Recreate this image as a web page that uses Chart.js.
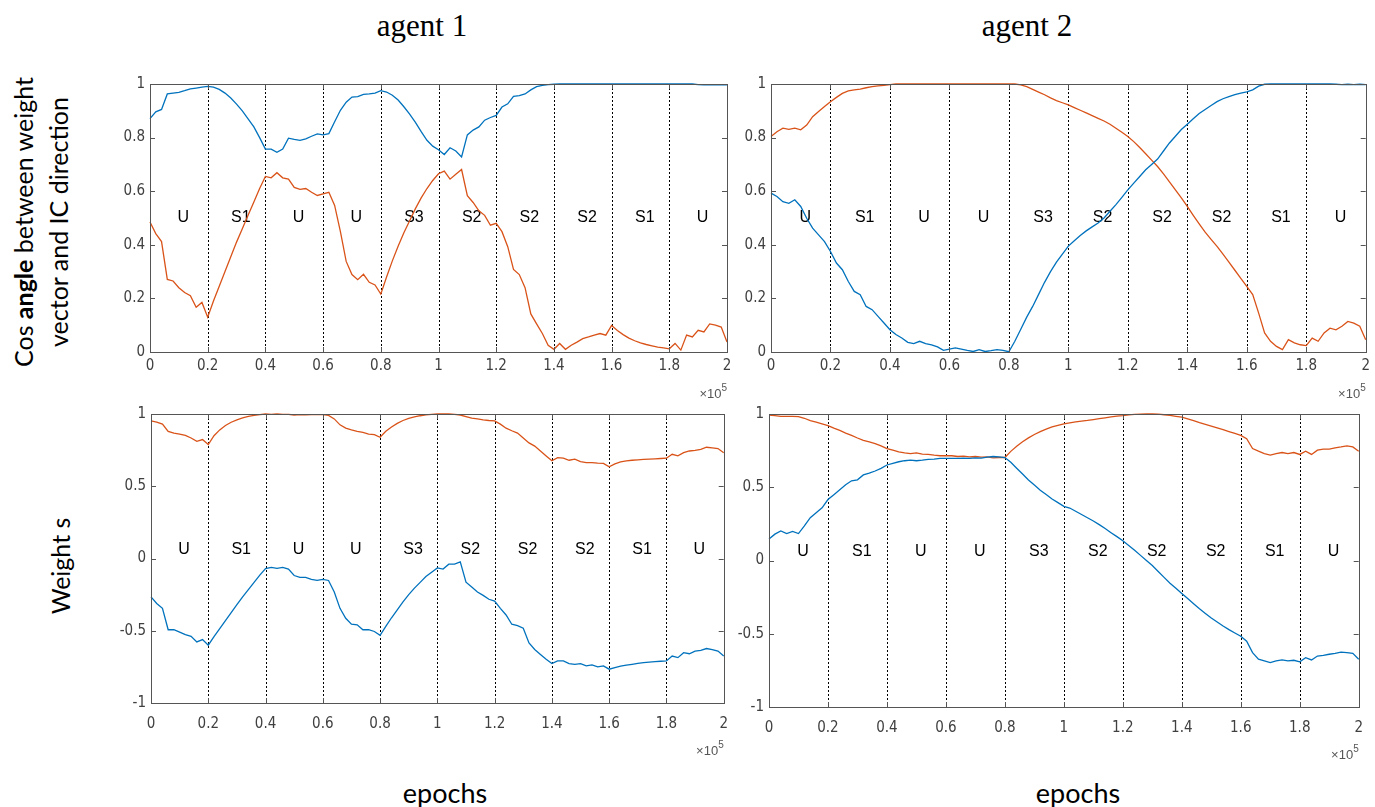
<!DOCTYPE html>
<html>
<head>
<meta charset="utf-8">
<script src="https://cdn.jsdelivr.net/npm/chart.js@4.4.1/dist/chart.umd.min.js"></script>
<style>
    body { margin: 0; background: #fff; }
    #page { position: relative; width: 1375px; height: 807px; overflow: hidden; background: #fff; }
    #page canvas { position: absolute; }
    .txt { position: absolute; white-space: nowrap; color: #000; }
    .agent { font-family: 'Liberation Serif', 'Times New Roman', serif; font-size: 31px; transform: translate(-50%, -50%); }
    .xlab { font-family: Lato, 'Open Sans', sans-serif; font-size: 27px; transform: translate(-50%, -50%); }
    .ylab { font-family: Lato, 'Open Sans', sans-serif; font-size: 25px; line-height: 35px; text-align: center;
            transform: translate(-50%, -50%) rotate(-90deg); }
</style>
</head>
<body>
<div id="page">
    <div class="txt agent" style="left:422px; top:26px;">agent 1</div>
    <div class="txt agent" style="left:1027px; top:26px;">agent 2</div>
    <div class="txt ylab" style="left:41px; top:222px;">Cos <b>angle</b> between weight<br>vector and IC direction</div>
    <div class="txt ylab" style="left:60px; top:566px;">Weight s</div>
    <div class="txt xlab" style="left:445px; top:792px;">epochs</div>
    <div class="txt xlab" style="left:1078px; top:792px;">epochs</div>

    <canvas id="cosAgent1" width="640" height="335" style="left:100px; top:70px;"></canvas>
    <canvas id="cosAgent2" width="655" height="335" style="left:720px; top:70px;"></canvas>
    <canvas id="wAgent1" width="640" height="365" style="left:100px; top:400px;"></canvas>
    <canvas id="wAgent2" width="655" height="365" style="left:720px; top:400px;"></canvas>
</div>

<script>
// epochs (x 10^5), one sample every 0.02
const epochs = [
    0, 0.02, 0.04, 0.06, 0.08, 0.1, 0.12, 0.14, 0.16, 0.18,
    0.2, 0.22, 0.24, 0.26, 0.28, 0.3, 0.32, 0.34, 0.36, 0.38,
    0.4, 0.42, 0.44, 0.46, 0.48, 0.5, 0.52, 0.54, 0.56, 0.58,
    0.6, 0.62, 0.64, 0.66, 0.68, 0.7, 0.72, 0.74, 0.76, 0.78,
    0.8, 0.82, 0.84, 0.86, 0.88, 0.9, 0.92, 0.94, 0.96, 0.98,
    1, 1.02, 1.04, 1.06, 1.08, 1.1, 1.12, 1.14, 1.16, 1.18,
    1.2, 1.22, 1.24, 1.26, 1.28, 1.3, 1.32, 1.34, 1.36, 1.38,
    1.4, 1.42, 1.44, 1.46, 1.48, 1.5, 1.52, 1.54, 1.56, 1.58,
    1.6, 1.62, 1.64, 1.66, 1.68, 1.7, 1.72, 1.74, 1.76, 1.78,
    1.8, 1.82, 1.84, 1.86, 1.88, 1.9, 1.92, 1.94, 1.96, 1.98,
    2
];

// training phases between the dotted lines
const phaseEdges = [0.2, 0.4, 0.6, 0.8, 1, 1.2, 1.4, 1.6, 1.8];
const phaseLabels = ['U', 'S1', 'U', 'U', 'S3', 'S2', 'S2', 'S2', 'S1', 'U'];

// agent 1, cos angle
const agent1CosBlue = [
    0.871, 0.896, 0.905, 0.963, 0.966, 0.969, 0.975, 0.982, 0.985, 0.988,
    0.991, 0.988, 0.980, 0.966, 0.948, 0.925, 0.900, 0.870, 0.840, 0.800,
    0.757, 0.757, 0.745, 0.757, 0.798, 0.793, 0.790, 0.795, 0.805, 0.814,
    0.810, 0.815, 0.859, 0.902, 0.932, 0.951, 0.953, 0.961, 0.963, 0.966,
    0.975, 0.970, 0.958, 0.940, 0.915, 0.888, 0.857, 0.822, 0.790, 0.768,
    0.755, 0.737, 0.762, 0.750, 0.728, 0.810, 0.828, 0.840, 0.865, 0.875,
    0.883, 0.914, 0.926, 0.954, 0.957, 0.963, 0.978, 0.990, 0.995, 0.998,
    0.999, 1, 1, 1, 1, 1, 1, 1, 1, 1,
    1, 1, 1, 1, 1, 1, 1, 1, 1, 1,
    1, 1, 1, 1, 1, 0.998, 0.997, 0.998, 0.997, 0.998,
    0.997
];
const agent1CosRed = [
    0.485, 0.442, 0.412, 0.271, 0.265, 0.240, 0.222, 0.210, 0.167, 0.185,
    0.130, 0.190, 0.245, 0.300, 0.355, 0.410, 0.460, 0.510, 0.560, 0.610,
    0.655, 0.650, 0.669, 0.650, 0.645, 0.614, 0.607, 0.610, 0.596, 0.584,
    0.590, 0.596, 0.547, 0.449, 0.338, 0.289, 0.270, 0.290, 0.260, 0.250,
    0.216, 0.280, 0.340, 0.395, 0.445, 0.490, 0.535, 0.575, 0.610, 0.640,
    0.665, 0.675, 0.645, 0.663, 0.681, 0.583, 0.558, 0.527, 0.510, 0.473,
    0.480, 0.449, 0.393, 0.308, 0.289, 0.240, 0.142, 0.105, 0.069, 0.025,
    0.010, 0.032, 0.010, 0.025, 0.037, 0.050, 0.056, 0.063, 0.069, 0.063,
    0.099, 0.080, 0.065, 0.052, 0.042, 0.034, 0.028, 0.023, 0.018, 0.015,
    0.012, 0.032, 0.007, 0.063, 0.056, 0.081, 0.075, 0.105, 0.100, 0.093,
    0.037
];

// agent 2, cos angle
const agent2CosBlue = [
    0.593, 0.580, 0.561, 0.555, 0.568, 0.543, 0.499, 0.462, 0.437, 0.412,
    0.375, 0.332, 0.307, 0.263, 0.226, 0.214, 0.170, 0.158, 0.133, 0.108,
    0.083, 0.065, 0.052, 0.036, 0.031, 0.040, 0.031, 0.027, 0.019, 0.006,
    0.011, 0.015, 0.011, 0.006, 0.002, 0.009, 0.002, 0.005, 0.009, 0.006,
    0.001, 0.040, 0.085, 0.130, 0.170, 0.215, 0.260, 0.300, 0.335, 0.365,
    0.395, 0.415, 0.435, 0.452, 0.467, 0.481, 0.500, 0.525, 0.550, 0.577,
    0.605, 0.630, 0.655, 0.680, 0.700, 0.720, 0.750, 0.780, 0.805, 0.830,
    0.850, 0.870, 0.890, 0.905, 0.920, 0.934, 0.945, 0.953, 0.960, 0.966,
    0.971, 0.978, 0.992, 0.999, 1, 1, 1, 1, 1, 1,
    1, 1, 1, 1, 1, 0.999, 0.998, 0.999, 0.998, 0.999,
    0.998
];
const agent2CosRed = [
    0.804, 0.822, 0.835, 0.831, 0.835, 0.829, 0.847, 0.878, 0.897, 0.916,
    0.934, 0.950, 0.965, 0.974, 0.978, 0.981, 0.986, 0.990, 0.993, 0.995,
    0.998, 1, 1, 1, 1, 1, 1, 1, 1, 1,
    1, 1, 1, 1, 1, 1, 1, 1, 1, 1,
    1, 1, 0.997, 0.990, 0.980, 0.970, 0.960, 0.948, 0.938, 0.930,
    0.922, 0.912, 0.902, 0.892, 0.882, 0.872, 0.862, 0.850, 0.835, 0.820,
    0.804, 0.785, 0.763, 0.740, 0.716, 0.692, 0.665, 0.635, 0.605, 0.575,
    0.543, 0.510, 0.478, 0.447, 0.420, 0.394, 0.365, 0.335, 0.305, 0.275,
    0.245, 0.214, 0.145, 0.071, 0.040, 0.021, 0.009, 0.046, 0.034, 0.027,
    0.024, 0.052, 0.040, 0.071, 0.089, 0.083, 0.096, 0.114, 0.108, 0.096,
    0.046
];

// agent 1, weights
const agent1WeightBlue = [
    -0.266, -0.311, -0.345, -0.493, -0.493, -0.509, -0.527, -0.539, -0.577, -0.561,
    -0.600, -0.540, -0.485, -0.430, -0.375, -0.320, -0.265, -0.215, -0.165, -0.115,
    -0.070, -0.061, -0.068, -0.061, -0.073, -0.118, -0.130, -0.130, -0.145, -0.152,
    -0.145, -0.152, -0.232, -0.345, -0.414, -0.455, -0.459, -0.493, -0.493, -0.505,
    -0.532, -0.470, -0.410, -0.355, -0.300, -0.250, -0.205, -0.165, -0.125, -0.095,
    -0.065, -0.073, -0.039, -0.039, -0.023, -0.164, -0.198, -0.232, -0.255, -0.282,
    -0.295, -0.345, -0.391, -0.455, -0.464, -0.482, -0.584, -0.630, -0.664, -0.698,
    -0.727, -0.709, -0.709, -0.727, -0.732, -0.727, -0.743, -0.736, -0.750, -0.743,
    -0.766, -0.755, -0.745, -0.738, -0.732, -0.726, -0.721, -0.717, -0.714, -0.711,
    -0.709, -0.675, -0.686, -0.652, -0.659, -0.641, -0.636, -0.623, -0.630, -0.641,
    -0.675
];
const agent1WeightRed = [
    0.952, 0.943, 0.930, 0.880, 0.868, 0.861, 0.852, 0.834, 0.811, 0.823,
    0.789, 0.850, 0.890, 0.920, 0.943, 0.960, 0.973, 0.983, 0.990, 0.996,
    1.000, 0.998, 1.000, 0.997, 0.998, 0.993, 0.995, 0.994, 0.996, 0.995,
    0.995, 0.990, 0.966, 0.925, 0.902, 0.890, 0.880, 0.873, 0.861, 0.857,
    0.839, 0.880, 0.910, 0.935, 0.955, 0.970, 0.980, 0.988, 0.994, 0.998,
    1.000, 1.000, 1.000, 0.998, 0.993, 0.982, 0.971, 0.966, 0.959, 0.955,
    0.952, 0.930, 0.902, 0.884, 0.868, 0.834, 0.800, 0.778, 0.744, 0.710,
    0.676, 0.698, 0.694, 0.680, 0.687, 0.671, 0.664, 0.664, 0.660, 0.658,
    0.635, 0.655, 0.668, 0.675, 0.680, 0.683, 0.686, 0.688, 0.690, 0.692,
    0.694, 0.721, 0.710, 0.732, 0.744, 0.748, 0.755, 0.770, 0.766, 0.761,
    0.732
];

// agent 2, weights
const agent2WeightBlue = [
    0.146, 0.180, 0.202, 0.184, 0.198, 0.184, 0.236, 0.292, 0.326, 0.360,
    0.416, 0.449, 0.483, 0.517, 0.544, 0.551, 0.584, 0.596, 0.611, 0.629,
    0.652, 0.663, 0.674, 0.681, 0.685, 0.681, 0.685, 0.690, 0.692, 0.697,
    0.697, 0.697, 0.697, 0.699, 0.697, 0.701, 0.699, 0.706, 0.710, 0.708,
    0.703, 0.670, 0.630, 0.590, 0.550, 0.515, 0.480, 0.450, 0.420, 0.395,
    0.370, 0.358, 0.336, 0.314, 0.292, 0.270, 0.245, 0.218, 0.190, 0.163,
    0.135, 0.103, 0.070, 0.035, 0.000, -0.034, -0.075, -0.115, -0.155, -0.190,
    -0.225, -0.260, -0.295, -0.330, -0.362, -0.393, -0.420, -0.447, -0.472, -0.495,
    -0.517, -0.551, -0.629, -0.674, -0.685, -0.697, -0.685, -0.679, -0.685, -0.681,
    -0.692, -0.663, -0.679, -0.652, -0.647, -0.640, -0.634, -0.625, -0.629, -0.634,
    -0.674
];
const agent2WeightRed = [
    0.993, 0.989, 0.984, 0.984, 0.984, 0.982, 0.971, 0.955, 0.944, 0.933,
    0.921, 0.903, 0.888, 0.870, 0.854, 0.836, 0.820, 0.809, 0.798, 0.782,
    0.764, 0.753, 0.742, 0.735, 0.730, 0.735, 0.726, 0.724, 0.719, 0.715,
    0.715, 0.715, 0.710, 0.712, 0.708, 0.710, 0.706, 0.708, 0.701, 0.703,
    0.703, 0.745, 0.780, 0.810, 0.837, 0.860, 0.880, 0.897, 0.912, 0.923,
    0.933, 0.940, 0.946, 0.951, 0.956, 0.962, 0.968, 0.974, 0.980, 0.985,
    0.989, 0.994, 0.997, 0.999, 1.000, 1.000, 0.999, 0.995, 0.990, 0.984,
    0.978, 0.966, 0.954, 0.941, 0.929, 0.917, 0.905, 0.893, 0.880, 0.867,
    0.854, 0.831, 0.764, 0.746, 0.730, 0.719, 0.730, 0.737, 0.730, 0.737,
    0.724, 0.746, 0.724, 0.753, 0.760, 0.760, 0.769, 0.775, 0.782, 0.775,
    0.746
];

// MATLAB default line colours
const blue = '#0072BD';
const red = '#D95319';
const tickFont = { family: "'Liberation Sans Narrow', 'Arial Narrow', 'DejaVu Sans Condensed', sans-serif", size: 15 };
const tickColor = '#404040';

// Draws the dotted phase lines, phase names, MATLAB-style box with inward ticks and the x10^5 note
const matlabAxes = {
    id: 'matlabAxes',
    beforeDatasetsDraw(chart, args, opts) {
        const { ctx, chartArea: a, scales: { x, y } } = chart;
        ctx.save();
        ctx.strokeStyle = '#000';
        ctx.lineWidth = 1;
        ctx.setLineDash([2, 2]);
        phaseEdges.forEach(e => {
            const px = Math.round(x.getPixelForValue(e)) + 0.5;
            ctx.beginPath();
            ctx.moveTo(px, a.top);
            ctx.lineTo(px, a.bottom);
            ctx.stroke();
        });
        ctx.setLineDash([]);

        ctx.fillStyle = '#000';
        ctx.font = "16px 'Liberation Sans', Arial, sans-serif";
        ctx.textAlign = 'center';
        ctx.textBaseline = 'middle';
        const bounds = [0, ...phaseEdges, 2];
        phaseLabels.forEach((lab, i) => {
            const mid = (bounds[i] + bounds[i + 1]) / 2 + 0.015;
            ctx.fillText(lab, x.getPixelForValue(mid), y.getPixelForValue(opts.labelY));
        });
        ctx.restore();
    },
    afterDatasetsDraw(chart, args, opts) {
        const { ctx, chartArea: a, scales: { x, y } } = chart;
        ctx.save();
        ctx.strokeStyle = '#555';
        ctx.lineWidth = 1;
        ctx.strokeRect(Math.round(a.left) + 0.5, Math.round(a.top) + 0.5,
            Math.round(a.right - a.left), Math.round(a.bottom - a.top));

        // inward ticks on all four sides
        const len = 5;
        ctx.beginPath();
        x.ticks.forEach(t => {
            const px = Math.round(x.getPixelForValue(t.value)) + 0.5;
            ctx.moveTo(px, a.bottom); ctx.lineTo(px, a.bottom - len);
            ctx.moveTo(px, a.top); ctx.lineTo(px, a.top + len);
        });
        y.ticks.forEach(t => {
            const py = Math.round(y.getPixelForValue(t.value)) + 0.5;
            ctx.moveTo(a.left, py); ctx.lineTo(a.left + len, py);
            ctx.moveTo(a.right, py); ctx.lineTo(a.right - len, py);
        });
        ctx.stroke();

        // exponent note under the right end of the x axis
        ctx.fillStyle = '#555';
        ctx.textBaseline = 'alphabetic';
        ctx.textAlign = 'right';
        ctx.font = "10px 'Liberation Sans', Arial, sans-serif";
        const supW = ctx.measureText('5').width;
        const base = a.bottom + opts.expOffset;
        ctx.fillText('5', a.right, base - 7);
        ctx.font = "13px 'Liberation Sans Narrow', 'Arial Narrow', sans-serif";
        ctx.fillText('\u00d710', a.right - supW, base);
        ctx.restore();
    }
};

function toPoints(values) {
    return epochs.map((e, i) => ({ x: e, y: values[i] }));
}

function trimNumber(v) {
    return String(Math.round(v * 10) / 10);
}

// Build one panel
function makePanel(id, cfg) {
    const ctx = document.getElementById(id).getContext('2d');
    return new Chart(ctx, {
        type: 'line',
        data: {
            datasets: [
                { data: toPoints(cfg.blue), borderColor: blue, borderWidth: 1.3, pointRadius: 0, tension: 0, clip: 3 },
                { data: toPoints(cfg.red), borderColor: red, borderWidth: 1.3, pointRadius: 0, tension: 0, clip: 3 }
            ]
        },
        options: {
            responsive: false,
            animation: false,
            events: [],
            layout: { padding: cfg.padding },
            scales: {
                x: {
                    type: 'linear',
                    min: 0,
                    max: 2,
                    grid: { display: false, drawTicks: false },
                    border: { display: false },
                    afterFit: s => { s.height = cfg.xHeight; },
                    ticks: {
                        stepSize: 0.2,
                        padding: cfg.xPad,
                        maxRotation: 0,
                        autoSkip: false,
                        color: tickColor,
                        font: tickFont,
                        callback: trimNumber
                    }
                },
                y: {
                    min: cfg.yMin,
                    max: 1,
                    grid: { display: false, drawTicks: false },
                    border: { display: false },
                    afterFit: s => { s.width = cfg.yWidth; },
                    ticks: {
                        stepSize: cfg.yStep,
                        padding: 5,
                        color: tickColor,
                        font: tickFont,
                        callback: trimNumber
                    }
                }
            },
            plugins: {
                legend: { display: false },
                tooltip: { enabled: false },
                matlabAxes: { labelY: cfg.labelY, expOffset: cfg.expOffset }
            }
        },
        plugins: [matlabAxes]
    });
}

document.addEventListener('DOMContentLoaded', function() {
    makePanel('cosAgent1', {
        blue: agent1CosBlue, red: agent1CosRed, yMin: 0, yStep: 0.2, labelY: 0.5,
        padding: { left: 0, right: 13, top: 10, bottom: 13 }, yWidth: 50, xHeight: 40, xPad: 5, expOffset: 46
    });
    makePanel('cosAgent2', {
        blue: agent2CosBlue, red: agent2CosRed, yMin: 0, yStep: 0.2, labelY: 0.5,
        padding: { left: 0, right: 8, top: 14, bottom: 13 }, yWidth: 51, xHeight: 40, xPad: 5, expOffset: 46
    });
    makePanel('wAgent1', {
        blue: agent1WeightBlue, red: agent1WeightRed, yMin: -1, yStep: 0.5, labelY: 0.06,
        padding: { left: 0, right: 13, top: 11, bottom: 17 }, yWidth: 51, xHeight: 45, xPad: 12, expOffset: 52
    });
    makePanel('wAgent2', {
        blue: agent2WeightBlue, red: agent2WeightRed, yMin: -1, yStep: 0.5, labelY: 0.06,
        padding: { left: 0, right: 9, top: 10, bottom: 13 }, yWidth: 49, xHeight: 45, xPad: 12, expOffset: 52
    });
});
</script>
</body>
</html>
